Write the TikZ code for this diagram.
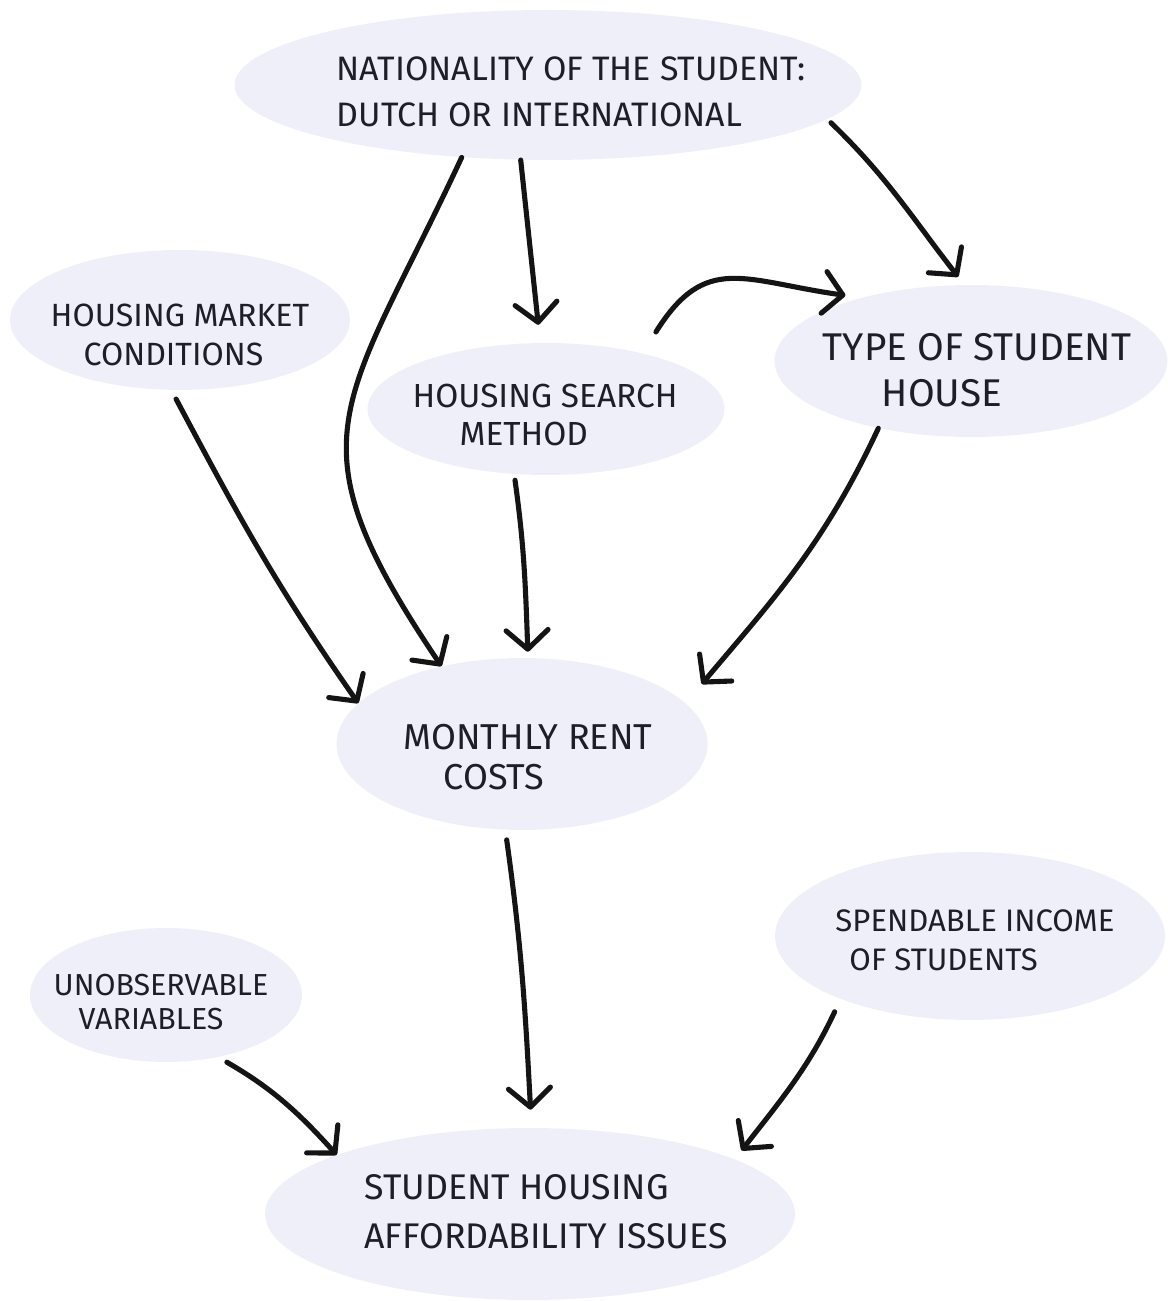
\documentclass[tikz,border=0pt]{standalone}
\usepackage{fontspec}
\setmainfont{Fira Sans}
\usepackage{tikz}
\usetikzlibrary{arrows.meta,shapes.geometric}
\definecolor{bubble}{HTML}{EFEFF9}
\definecolor{ink}{HTML}{1E1E28}
\definecolor{pen}{HTML}{141414}

\begin{document}
\begin{tikzpicture}[
  x=0.02cm, y=0.02cm,
  blob/.style={ellipse, fill=bubble, draw=none, inner sep=0pt},
  lbl/.style={align=left, text=ink, inner sep=0pt},
  flow/.style={-{Straight Barb[round,length=3.8mm,width=8.4mm]}, draw=pen,
    line width=2.9pt, line cap=round},
]
  \useasboundingbox (0,0) rectangle (1168,1301);
  % bubbles
  \node[blob, minimum width=12.54cm, minimum height=3.0cm] (nat) at (548,1216) {};
  \node[blob, minimum width=6.8cm, minimum height=2.8cm] (mkt) at (180,981) {};
  \node[blob, minimum width=7.14cm, minimum height=2.64cm] (srch) at (546,892) {};
  \node[blob, minimum width=7.86cm, minimum height=3.04cm] (type) at (971,940) {};
  \node[blob, minimum width=7.42cm, minimum height=3.44cm] (rent) at (522,557) {};
  \node[blob, minimum width=5.44cm, minimum height=2.68cm] (unobs) at (166,306) {};
  \node[blob, minimum width=7.8cm, minimum height=3.36cm] (spend) at (970,365) {};
  \node[blob, minimum width=10.6cm, minimum height=3.44cm] (afford) at (530,87) {};
  % labels
  \node[lbl, font=\fontsize{19.3}{26}\selectfont] (nat-t) at (571,1209)
    {NATIONALITY OF THE STUDENT:\\DUTCH OR INTERNATIONAL};
  \node[lbl, font=\fontsize{18.3}{22}\selectfont] (mkt-t) at (180,966)
    {HOUSING MARKET\\\hspace*{0.66cm}CONDITIONS};
  \node[lbl, font=\fontsize{19}{22}\selectfont] (srch-t) at (545,886)
    {HOUSING SEARCH\\\hspace*{0.94cm}METHOD};
  \node[lbl, font=\fontsize{22}{26}\selectfont] (type-t) at (977,931)
    {TYPE OF STUDENT\\\hspace*{1.18cm}HOUSE};
  \node[lbl, font=\fontsize{20.5}{23}\selectfont] (rent-t) at (528,544)
    {MONTHLY RENT\\\hspace*{0.8cm}COSTS};
  \node[lbl, font=\fontsize{17.3}{19}\selectfont] (unobs-t) at (161,299)
    {UNOBSERVABLE\\\hspace*{0.5cm}VARIABLES};
  \node[lbl, font=\fontsize{17.7}{22}\selectfont] (spend-t) at (975,361)
    {SPENDABLE INCOME\\\hspace*{0.28cm}OF STUDENTS};
  \node[lbl, font=\fontsize{20.3}{28}\selectfont] (afford-t) at (546,89)
    {STUDENT HOUSING\\AFFORDABILITY ISSUES};
  % arrows
  \draw[flow] (nat.220) to[out=245, in=124, looseness=1.4] (rent.136);
  \draw[flow, shorten >=0.36cm] (nat.250) -- (srch.95);
  \draw[flow, shorten <=0.1cm, shorten >=0.2cm] (nat.353) to[out=-44, in=128] (type.95);
  \draw[flow, shorten <=0.5cm, shorten >=0.32cm] (srch.30) to[out=58, in=172, looseness=1.35] (type.150);
  \draw[flow, shorten <=0.2cm] (mkt.263) to[out=-62, in=125] (rent.166);
  \draw[flow, shorten <=0.12cm, shorten >=0.12cm] (srch.244) to[out=-82, in=92] (rent.86);
  \draw[flow, shorten >=0.5cm] (type.216) to[out=-115, in=50] (rent.14);
  \draw[flow, shorten <=0.2cm, shorten >=0.36cm] (rent.259) to[out=-82, in=93] (afford.89);
  \draw[flow, shorten <=0.2cm] (unobs.310) to[out=-30, in=132] (afford.163);
  \draw[flow, shorten <=0.28cm, shorten >=0.22cm] (spend.206) to[out=-115, in=52] (afford.15);
\end{tikzpicture}
\end{document}
